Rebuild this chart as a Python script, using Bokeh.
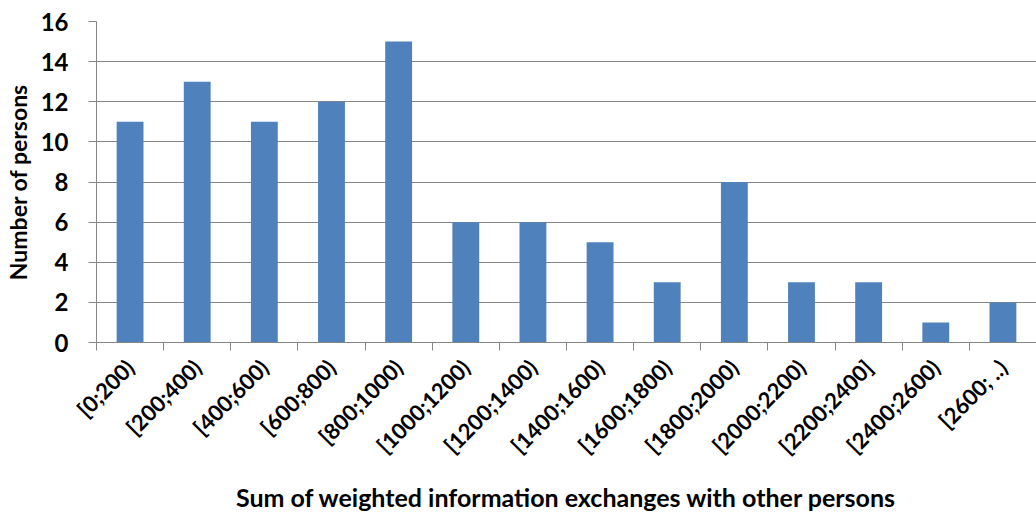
from bokeh.plotting import figure
from bokeh.models import (Range1d, LinearAxis, FixedTicker, ColumnDataSource)
from bokeh.embed import file_html
from bokeh.resources import INLINE

categories = ["[0;200)", "[200;400)", "[400;600)", "[600;800)", "[800;1000)",
              "[1000;1200)", "[1200;1400)", "[1400;1600)", "[1600;1800)",
              "[1800;2000)", "[2000;2200)", "[2200;2400]", "[2400;2600)",
              "[2600; ..)"]
counts = [11, 13, 11, 12, 15, 6, 6, 5, 3, 8, 3, 3, 1, 2]
y_ticks = [0, 2, 4, 6, 8, 10, 12, 14, 16]

FONT = "Lato"
GRAY = "#868686"

idx = list(range(len(categories)))
src = ColumnDataSource(dict(x=idx, cat=categories, n=counts))

p = figure(frame_width=940, frame_height=321,
           x_range=Range1d(-0.5, len(categories) - 0.5),
           y_range=Range1d(0, 16), output_backend="svg", toolbar_location=None,
           x_axis_location=None, y_axis_location=None,
           min_border_left=94, min_border_right=0, min_border_top=21,
           min_border_bottom=0)
p.outline_line_color = None
p.background_fill_color = "white"
p.border_fill_color = "white"

p.vbar(x="x", top="n", width=0.4, source=src, fill_color="#4F81BD",
       line_color=None)

# y axis
yax = LinearAxis(ticker=FixedTicker(ticks=y_ticks))
yax.axis_label = "Number of persons"
yax.axis_label_text_font = FONT
yax.axis_label_text_font_style = "bold"
yax.axis_label_text_font_size = "23px"
yax.axis_label_text_color = "black"
yax.axis_label_standoff = 6
yax.major_label_text_font = FONT
yax.major_label_text_font_style = "bold"
yax.major_label_text_font_size = "24px"
yax.major_label_text_color = "black"
yax.major_label_standoff = 20
yax.axis_line_color = GRAY
yax.major_tick_line_color = GRAY
yax.major_tick_in = 0
yax.major_tick_out = 8
yax.minor_tick_line_color = None
p.add_layout(yax, "left")

# category edge ticks
eax = LinearAxis(ticker=FixedTicker(ticks=[i - 0.5 for i in range(len(categories) + 1)]))
eax.axis_line_color = GRAY
eax.major_tick_line_color = GRAY
eax.major_tick_in = 0
eax.major_tick_out = 8
eax.minor_tick_line_color = None
eax.major_label_text_font_size = "0px"
eax.major_label_text_color = None
eax.major_label_standoff = 0
p.add_layout(eax, "below")

# category labels
cax = LinearAxis(ticker=FixedTicker(ticks=idx),
                 major_label_overrides={i: c for i, c in zip(idx, categories)})
cax.axis_line_color = None
cax.major_tick_line_color = None
cax.minor_tick_line_color = None
cax.major_tick_out = 0
cax.major_tick_in = 0
cax.major_label_orientation = 0.785398
cax.major_label_text_font = FONT
cax.major_label_text_font_style = "bold"
cax.major_label_text_font_size = "22px"
cax.major_label_text_color = "black"
cax.major_label_standoff = 13
cax.axis_label = "Sum of weighted information exchanges with other persons"
cax.axis_label_text_font = FONT
cax.axis_label_text_font_style = "bold"
cax.axis_label_text_font_size = "25px"
cax.axis_label_text_color = "black"
cax.axis_label_standoff = 10
p.add_layout(cax, "below")

p.xgrid.visible = False
p.ygrid.grid_line_color = GRAY
p.ygrid.ticker = FixedTicker(ticks=y_ticks)

open("out.html", "w").write(file_html(p, INLINE))
